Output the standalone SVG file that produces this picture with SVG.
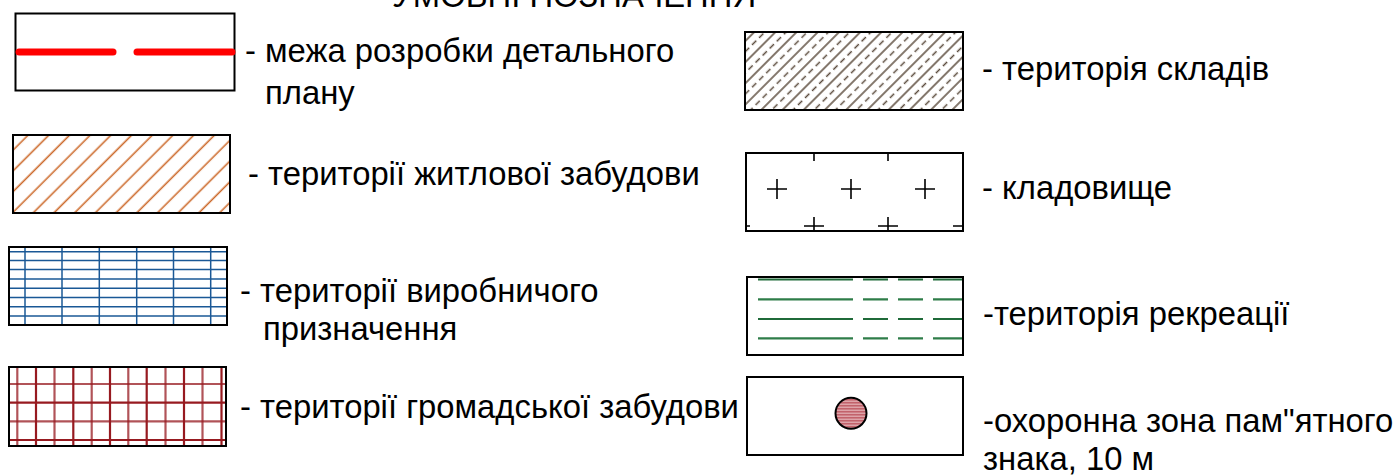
<svg xmlns="http://www.w3.org/2000/svg" width="1399" height="475" viewBox="0 0 1399 475">
<style>
text{font-family:"Liberation Sans",Arial,sans-serif;font-size:32.8px;fill:#000}
.box{fill:#fff;stroke:#000;stroke-width:2}
.blue{stroke:#1a5896;stroke-width:1.5}
.red{stroke:#971a20;stroke-width:2.2}
.grn{stroke:#1f6a39;stroke-width:2.2}
.blk{stroke:#000;stroke-width:1.6;fill:none}
</style>
<defs>
<pattern id="hOrange" patternUnits="userSpaceOnUse" width="20" height="14.64" patternTransform="rotate(-45)">
<line x1="-1" y1="13" x2="21" y2="13" stroke="#cc6a2c" stroke-width="1.6"/>
</pattern>
<pattern id="hStore" patternUnits="userSpaceOnUse" width="10" height="15" patternTransform="rotate(-45)">
<line x1="-1" y1="1" x2="11" y2="1" stroke="#5a4a3c" stroke-width="1.5"/>
<line x1="0" y1="8.5" x2="6" y2="8.5" stroke="#5a4a3c" stroke-width="1.5"/>
</pattern>
<pattern id="hPink" patternUnits="userSpaceOnUse" width="6" height="3">
<rect width="6" height="3" fill="#c2626b"/>
<line x1="0" y1="2.2" x2="6" y2="2.2" stroke="#f4d8da" stroke-width="0.8"/>
</pattern>
</defs>

<text id="title" x="392" y="7">УМОВНІ ПОЗНАЧЕННЯ</text>

<g id="boundary">
<rect class="box" x="15.5" y="13.5" width="219" height="77"/>
<line x1="19" y1="52" x2="113" y2="52" stroke="#ff0000" stroke-width="7" stroke-linecap="round"/>
<line x1="137" y1="52" x2="232" y2="52" stroke="#ff0000" stroke-width="7" stroke-linecap="round"/>
<text x="245" y="62">- межа розробки детального</text>
<text x="265" y="104">плану</text>
</g>

<g id="residential">
<rect class="box" x="13" y="135" width="217" height="78"/>
<rect x="14" y="136" width="215" height="76" fill="url(#hOrange)"/>
<rect x="13" y="135" width="217" height="78" fill="none" stroke="#000" stroke-width="2"/>
<text x="248" y="185">- території житлової забудови</text>
</g>

<g id="industrial">
<rect class="box" x="9" y="247" width="218" height="78"/>
<g class="blue">
<line x1="10" y1="251.7" x2="226" y2="251.7"/>
<line x1="10" y1="260.5" x2="226" y2="260.5"/>
<line x1="10" y1="269.5" x2="226" y2="269.5"/>
<line x1="10" y1="279" x2="226" y2="279"/>
<line x1="10" y1="288.3" x2="226" y2="288.3"/>
<line x1="10" y1="297.5" x2="226" y2="297.5"/>
<line x1="10" y1="306.7" x2="226" y2="306.7"/>
<line x1="10" y1="316" x2="226" y2="316"/>
<line x1="25" y1="248" x2="25" y2="324"/>
<line x1="62" y1="248" x2="62" y2="324"/>
<line x1="99.3" y1="248" x2="99.3" y2="324"/>
<line x1="136.7" y1="248" x2="136.7" y2="324"/>
<line x1="173.5" y1="248" x2="173.5" y2="324"/>
<line x1="210.7" y1="248" x2="210.7" y2="324"/>
</g>
<rect x="9" y="247" width="218" height="78" fill="none" stroke="#000" stroke-width="2"/>
<text x="240" y="302">- території виробничого</text>
<text x="263" y="340">призначення</text>
</g>

<g id="public">
<rect class="box" x="9" y="367" width="217" height="79"/>
<g class="red">
<line x1="10" y1="384" x2="225" y2="384" stroke-opacity="0.75"/>
<line x1="10" y1="402.7" x2="225" y2="402.7"/>
<line x1="10" y1="421.3" x2="225" y2="421.3" stroke-opacity="0.75"/>
<line x1="10" y1="440" x2="225" y2="440"/>
<line x1="17.3" y1="368" x2="17.3" y2="445" stroke-opacity="0.75"/>
<line x1="36" y1="368" x2="36" y2="445"/>
<line x1="54.5" y1="368" x2="54.5" y2="445" stroke-opacity="0.75"/>
<line x1="73.3" y1="368" x2="73.3" y2="445"/>
<line x1="91.7" y1="368" x2="91.7" y2="445" stroke-opacity="0.75"/>
<line x1="110" y1="368" x2="110" y2="445"/>
<line x1="128.3" y1="368" x2="128.3" y2="445" stroke-opacity="0.75"/>
<line x1="146.7" y1="368" x2="146.7" y2="445"/>
<line x1="165.5" y1="368" x2="165.5" y2="445" stroke-opacity="0.75"/>
<line x1="184" y1="368" x2="184" y2="445"/>
<line x1="202.5" y1="368" x2="202.5" y2="445" stroke-opacity="0.75"/>
<line x1="221.5" y1="368" x2="221.5" y2="445"/>
</g>
<rect x="9" y="367" width="217" height="79" fill="none" stroke="#000" stroke-width="2"/>
<text x="240" y="418">- території громадської забудови</text>
</g>

<g id="warehouses">
<rect class="box" x="745" y="32" width="218" height="78"/>
<rect x="746" y="33" width="216" height="76" fill="url(#hStore)"/>
<rect x="745" y="32" width="218" height="78" fill="none" stroke="#000" stroke-width="2"/>
<text x="982" y="80">- територія складів</text>
</g>

<g id="cemetery">
<rect class="box" x="746" y="153" width="217" height="78"/>
<path class="blk" d="M814 153V161M888 153V161M767 189H787M777 179V199M841 189H861M851 179V199M915 189H935M925 179V199M804 226H824M814 217V231M878 226H898M888 217V231M746 226H750M953 226H963"/>
<text x="982" y="199">- кладовище</text>
</g>

<g id="recreation">
<rect class="box" x="747" y="277" width="216" height="78"/>
<g class="grn">
<path d="M758 279.5H853M863 279.5H888M898 279.5H923M933 279.5H962"/>
<path d="M758 299.3H853M863 299.3H888M898 299.3H923M933 299.3H962" stroke="#2f7d49"/>
<path d="M758 319H853M863 319H888M898 319H923M933 319H962"/>
<path d="M758 338.3H853M863 338.3H888M898 338.3H923M933 338.3H962" stroke="#2f7d49"/>
</g>
<rect x="747" y="277" width="216" height="78" fill="none" stroke="#000" stroke-width="2"/>
<text x="983" y="325">-територія рекреації</text>
</g>

<g id="monument">
<rect class="box" x="747" y="377" width="216" height="78"/>
<circle cx="851" cy="413.3" r="15.5" fill="url(#hPink)" stroke="#000" stroke-width="2"/>
<text x="983" y="432">-охоронна зона пам&quot;ятного</text>
<text x="983" y="470">знака, 10 м</text>
</g>
</svg>
